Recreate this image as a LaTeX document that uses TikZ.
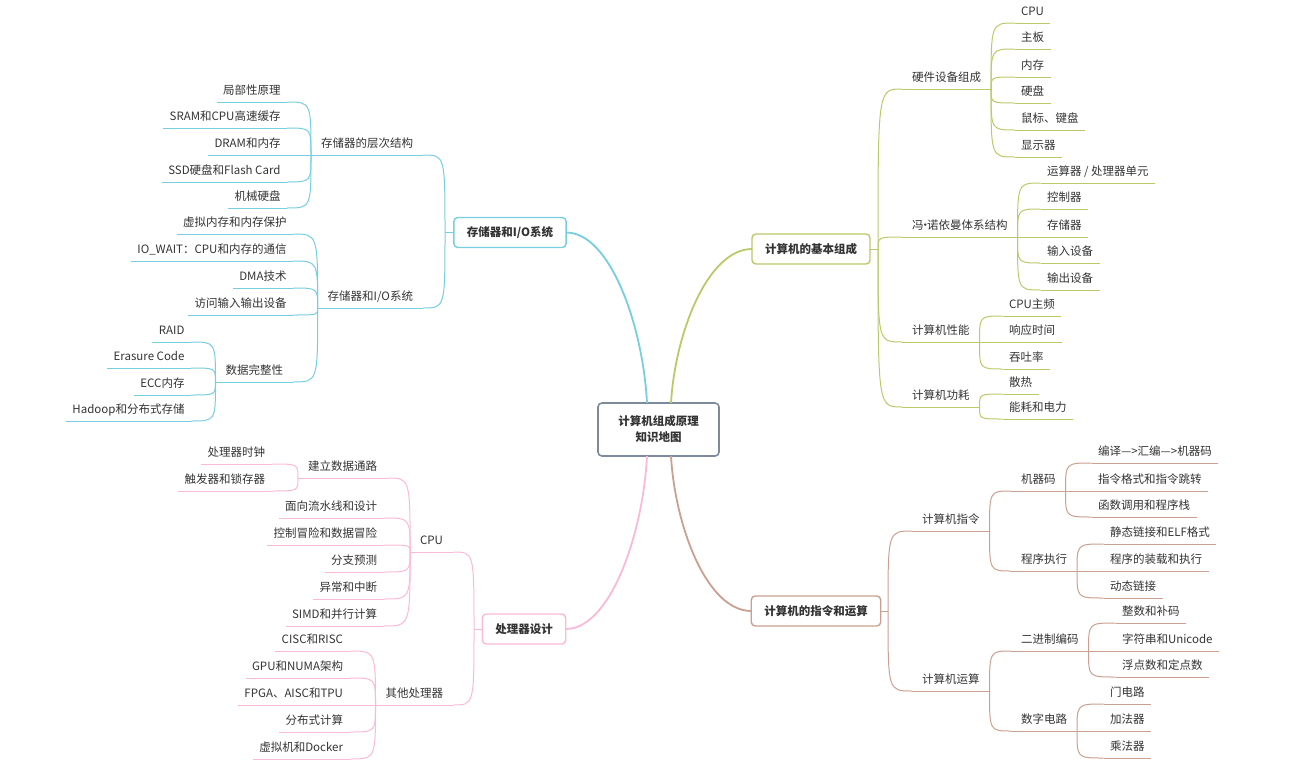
\documentclass[tikz,border=0pt]{standalone}
\usepackage{fontspec}
\setmainfont{Noto Sans CJK SC}
\definecolor{txt}{RGB}{51,51,51}
\definecolor{rootc}{RGB}{125,138,155}
\definecolor{bluec}{RGB}{118,206,224}
\definecolor{greenc}{RGB}{188,201,104}
\definecolor{pinkc}{RGB}{250,186,215}
\definecolor{brownc}{RGB}{201,160,145}
\tikzset{
  root/.style={draw=rootc, line width=1.6pt, rounded corners=4pt, fill=white, minimum width=121pt, minimum height=53pt, align=center, font=\fontsize{11.5}{16}\selectfont\bfseries},
  topic/.style={draw=#1, line width=1.4pt, rounded corners=4pt, fill=white, inner xsep=13pt, minimum height=30pt, font=\fontsize{11.5}{14}\selectfont\bfseries},
  leaf/.style={inner xsep=6.5pt, inner ysep=4.5pt, text height=9pt, text depth=2.6pt,
    append after command={(\tikzlastnode.south west) edge[draw=#1, line width=0.9pt] (\tikzlastnode.south east)}},
  sub/.style={leaf=#1, inner xsep=10pt},
  link/.style={draw=#1, line width=1pt},
  mainlink/.style={draw=#1, line width=1.8pt}
}
\begin{document}
\begin{tikzpicture}[x=1pt,y=-1pt,every node/.style={font=\fontsize{11.5}{16}\selectfont, text=txt, outer sep=0pt}]
\useasboundingbox (0,0) rectangle (1299,771);
\node[root] (root) at (658.5,429.5) {计算机组成原理\\知识地图};
% storage and I/O
\node[topic=bluec] (mem) at (510,232.5) {存储器和I/O系统};
\coordinate (jm) at (445,232.5);
\node[sub=bluec, anchor=south east] (hier) at (423,155) {存储器的层次结构};
\node[sub=bluec, anchor=south east] (memio) at (423,308) {存储器和I/O系统};
\node[leaf=bluec, anchor=south east] (h1) at (287,102) {局部性原理};
\node[leaf=bluec, anchor=south east] (h2) at (287,128) {SRAM和CPU高速缓存};
\node[leaf=bluec, anchor=south east] (h3) at (287,155) {DRAM和内存};
\node[leaf=bluec, anchor=south east] (h4) at (287,182) {SSD硬盘和Flash Card};
\node[leaf=bluec, anchor=south east] (h5) at (287,208) {机械硬盘};
\node[leaf=bluec, anchor=south east] (m1) at (293,234) {虚拟内存和内存保护};
\node[leaf=bluec, anchor=south east] (m2) at (293,261) {IO\_WAIT：CPU和内存的通信};
\node[leaf=bluec, anchor=south east] (m3) at (293,288) {DMA技术};
\node[leaf=bluec, anchor=south east] (m4) at (293,315) {访问输入输出设备};
\node[sub=bluec, anchor=south east] (integ) at (293,382) {数据完整性};
\node[leaf=bluec, anchor=south east] (d1) at (191,342) {RAID};
\node[leaf=bluec, anchor=south east] (d2) at (191,368) {Erasure Code};
\node[leaf=bluec, anchor=south east] (d3) at (191,395) {ECC内存};
\node[leaf=bluec, anchor=south east] (d4) at (191,421) {Hadoop和分布式存储};
% basic composition
\node[topic=greenc] (basic) at (811,249) {计算机的基本组成};
\coordinate (jb) at (878,249);
\node[sub=greenc, anchor=south west] (hw) at (902,89) {硬件设备组成};
\node[sub=greenc, anchor=south west] (vn) at (902,237) {冯\kern-4pt·\kern-4pt诺依曼体系结构};
\node[sub=greenc, anchor=south west] (perf) at (902,342) {计算机性能};
\node[sub=greenc, anchor=south west] (power) at (902,407) {计算机功耗};
\node[leaf=greenc, anchor=south west] (w1) at (1014.5,23) {CPU};
\node[leaf=greenc, anchor=south west] (w2) at (1014.5,49) {主板};
\node[leaf=greenc, anchor=south west] (w3) at (1014.5,77) {内存};
\node[leaf=greenc, anchor=south west] (w4) at (1014.5,103) {硬盘};
\node[leaf=greenc, anchor=south west] (w5) at (1014.5,130) {鼠标、键盘};
\node[leaf=greenc, anchor=south west] (w6) at (1014.5,157) {显示器};
\node[leaf=greenc, anchor=south west] (v1) at (1040.5,183) {运算器 / 处理器单元};
\node[leaf=greenc, anchor=south west] (v2) at (1040.5,209) {控制器};
\node[leaf=greenc, anchor=south west] (v3) at (1040.5,237) {存储器};
\node[leaf=greenc, anchor=south west] (v4) at (1040.5,263) {输入设备};
\node[leaf=greenc, anchor=south west] (v5) at (1040.5,290) {输出设备};
\node[leaf=greenc, anchor=south west] (p1) at (1002.5,316) {CPU主频};
\node[leaf=greenc, anchor=south west] (p2) at (1002.5,342) {响应时间};
\node[leaf=greenc, anchor=south west] (p3) at (1002.5,369) {吞吐率};
\node[leaf=greenc, anchor=south west] (e1) at (1002.5,394) {散热};
\node[leaf=greenc, anchor=south west] (e2) at (1002.5,419) {能耗和电力};
% instructions and arithmetic
\node[topic=brownc] (instr) at (816,611) {计算机的指令和运算};
\coordinate (ji) at (888,611);
\node[sub=brownc, anchor=south west] (ins) at (912,531) {计算机指令};
\node[sub=brownc, anchor=south west] (ari) at (912,691) {计算机运算};
\node[sub=brownc, anchor=south west] (mc) at (1011,491) {机器码};
\node[sub=brownc, anchor=south west] (pe) at (1011,571) {程序执行};
\node[sub=brownc, anchor=south west] (bin) at (1011,651) {二进制编码};
\node[sub=brownc, anchor=south west] (dc) at (1011,731) {数字电路};
\node[leaf=brownc, anchor=south west] (c1) at (1091.5,463) {编译—>汇编—>机器码};
\node[leaf=brownc, anchor=south west] (c2) at (1091.5,491) {指令格式和指令跳转};
\node[leaf=brownc, anchor=south west] (c3) at (1091.5,517) {函数调用和程序栈};
\node[leaf=brownc, anchor=south west] (x1) at (1103.5,544) {静态链接和ELF格式};
\node[leaf=brownc, anchor=south west] (x2) at (1103.5,571) {程序的装载和执行};
\node[leaf=brownc, anchor=south west] (x3) at (1103.5,598) {动态链接};
\node[leaf=brownc, anchor=south west] (b1) at (1115.5,623) {整数和补码};
\node[leaf=brownc, anchor=south west] (b2) at (1115.5,651) {字符串和Unicode};
\node[leaf=brownc, anchor=south west] (b3) at (1115.5,677) {浮点数和定点数};
\node[leaf=brownc, anchor=south west] (g1) at (1103.5,704) {门电路};
\node[leaf=brownc, anchor=south west] (g2) at (1103.5,731) {加法器};
\node[leaf=brownc, anchor=south west] (g3) at (1103.5,758) {乘法器};
% processor design
\node[topic=pinkc] (proc) at (524,629) {处理器设计};
\coordinate (jp) at (474,629);
\node[sub=pinkc, anchor=south east] (cpu) at (453,552) {CPU};
\node[sub=pinkc, anchor=south east] (other) at (453,705) {其他处理器};
\node[sub=pinkc, anchor=south east] (path) at (387,478) {建立数据通路};
\node[leaf=pinkc, anchor=south east] (u1) at (383.5,518) {面向流水线和设计};
\node[leaf=pinkc, anchor=south east] (u2) at (383.5,545) {控制冒险和数据冒险};
\node[leaf=pinkc, anchor=south east] (u3) at (383.5,572) {分支预测};
\node[leaf=pinkc, anchor=south east] (u4) at (383.5,599) {异常和中断};
\node[leaf=pinkc, anchor=south east] (u5) at (383.5,626) {SIMD和并行计算};
\node[leaf=pinkc, anchor=south east] (t1) at (271.5,464) {处理器时钟};
\node[leaf=pinkc, anchor=south east] (t2) at (271.5,491) {触发器和锁存器};
\node[leaf=pinkc, anchor=south east] (o1) at (349.5,651) {CISC和RISC};
\node[leaf=pinkc, anchor=south east] (o2) at (349.5,678) {GPU和NUMA架构};
\node[leaf=pinkc, anchor=south east] (o3) at (349.5,705) {FPGA、AISC和TPU};
\node[leaf=pinkc, anchor=south east] (o4) at (349.5,732) {分布式计算};
\node[leaf=pinkc, anchor=south east] (o5) at (349.5,759) {虚拟机和Docker};
% main branches
\draw[mainlink=bluec] ([xshift=-11.5pt]root.north) .. controls +(-4,-77) and +(44,0) .. (mem.east);
\draw[mainlink=greenc] ([xshift=12.5pt]root.north) .. controls +(4,-69) and +(-44.5,0) .. (basic.west);
\draw[mainlink=pinkc] ([xshift=-11.5pt]root.south) .. controls +(-4,78) and +(44.5,0) .. (proc.east);
\draw[mainlink=brownc] ([xshift=12.5pt]root.south) .. controls +(4,70) and +(-44.5,0) .. (instr.west);
\draw[link=bluec] (mem.west) -- (jm);
\draw[link=greenc] (basic.east) -- (jb);
\draw[link=brownc] (instr.east) -- (ji);
\draw[link=pinkc] (proc.west) -- (jp);
% storage branches
\draw[link=bluec] (jm) .. controls (jm |- hier.south east) .. (hier.south east);
\draw[link=bluec] (jm) .. controls (jm |- memio.south east) .. (memio.south east);
\draw[link=bluec] (hier.south west) .. controls (hier.south west |- h1.south east) .. (h1.south east);
\draw[link=bluec] (hier.south west) .. controls (hier.south west |- h2.south east) .. (h2.south east);
\draw[link=bluec] (hier.south west) -- (h3.south east);
\draw[link=bluec] (hier.south west) .. controls (hier.south west |- h4.south east) .. (h4.south east);
\draw[link=bluec] (hier.south west) .. controls (hier.south west |- h5.south east) .. (h5.south east);
\draw[link=bluec] (memio.south west) .. controls (memio.south west |- m1.south east) .. (m1.south east);
\draw[link=bluec] (memio.south west) .. controls (memio.south west |- m2.south east) .. (m2.south east);
\draw[link=bluec] (memio.south west) .. controls (memio.south west |- m3.south east) .. (m3.south east);
\draw[link=bluec] (memio.south west) .. controls (memio.south west |- m4.south east) .. (m4.south east);
\draw[link=bluec] (memio.south west) .. controls (memio.south west |- integ.south east) .. (integ.south east);
\draw[link=bluec] (integ.south west) .. controls (integ.south west |- d1.south east) .. (d1.south east);
\draw[link=bluec] (integ.south west) .. controls (integ.south west |- d2.south east) .. (d2.south east);
\draw[link=bluec] (integ.south west) .. controls (integ.south west |- d3.south east) .. (d3.south east);
\draw[link=bluec] (integ.south west) .. controls (integ.south west |- d4.south east) .. (d4.south east);
% basic composition branches
\draw[link=greenc] (jb) .. controls (jb |- hw.south west) .. (hw.south west);
\draw[link=greenc] (jb) .. controls (jb |- vn.south west) .. (vn.south west);
\draw[link=greenc] (jb) .. controls (jb |- perf.south west) .. (perf.south west);
\draw[link=greenc] (jb) .. controls (jb |- power.south west) .. (power.south west);
\draw[link=greenc] (hw.south east) .. controls (hw.south east |- w1.south west) .. (w1.south west);
\draw[link=greenc] (hw.south east) .. controls (hw.south east |- w2.south west) .. (w2.south west);
\draw[link=greenc] (hw.south east) .. controls (hw.south east |- w3.south west) .. (w3.south west);
\draw[link=greenc] (hw.south east) .. controls (hw.south east |- w4.south west) .. (w4.south west);
\draw[link=greenc] (hw.south east) .. controls (hw.south east |- w5.south west) .. (w5.south west);
\draw[link=greenc] (hw.south east) .. controls (hw.south east |- w6.south west) .. (w6.south west);
\draw[link=greenc] (vn.south east) .. controls (vn.south east |- v1.south west) .. (v1.south west);
\draw[link=greenc] (vn.south east) .. controls (vn.south east |- v2.south west) .. (v2.south west);
\draw[link=greenc] (vn.south east) -- (v3.south west);
\draw[link=greenc] (vn.south east) .. controls (vn.south east |- v4.south west) .. (v4.south west);
\draw[link=greenc] (vn.south east) .. controls (vn.south east |- v5.south west) .. (v5.south west);
\draw[link=greenc] (perf.south east) .. controls (perf.south east |- p1.south west) .. (p1.south west);
\draw[link=greenc] (perf.south east) -- (p2.south west);
\draw[link=greenc] (perf.south east) .. controls (perf.south east |- p3.south west) .. (p3.south west);
\draw[link=greenc] (power.south east) .. controls (power.south east |- e1.south west) .. (e1.south west);
\draw[link=greenc] (power.south east) .. controls (power.south east |- e2.south west) .. (e2.south west);
% instruction branches
\draw[link=brownc] (ji) .. controls (ji |- ins.south west) .. (ins.south west);
\draw[link=brownc] (ji) .. controls (ji |- ari.south west) .. (ari.south west);
\draw[link=brownc] (ins.south east) .. controls (ins.south east |- mc.south west) .. (mc.south west);
\draw[link=brownc] (ins.south east) .. controls (ins.south east |- pe.south west) .. (pe.south west);
\draw[link=brownc] (ari.south east) .. controls (ari.south east |- bin.south west) .. (bin.south west);
\draw[link=brownc] (ari.south east) .. controls (ari.south east |- dc.south west) .. (dc.south west);
\draw[link=brownc] (mc.south east) .. controls (mc.south east |- c1.south west) .. (c1.south west);
\draw[link=brownc] (mc.south east) -- (c2.south west);
\draw[link=brownc] (mc.south east) .. controls (mc.south east |- c3.south west) .. (c3.south west);
\draw[link=brownc] (pe.south east) .. controls (pe.south east |- x1.south west) .. (x1.south west);
\draw[link=brownc] (pe.south east) -- (x2.south west);
\draw[link=brownc] (pe.south east) .. controls (pe.south east |- x3.south west) .. (x3.south west);
\draw[link=brownc] (bin.south east) .. controls (bin.south east |- b1.south west) .. (b1.south west);
\draw[link=brownc] (bin.south east) -- (b2.south west);
\draw[link=brownc] (bin.south east) .. controls (bin.south east |- b3.south west) .. (b3.south west);
\draw[link=brownc] (dc.south east) .. controls (dc.south east |- g1.south west) .. (g1.south west);
\draw[link=brownc] (dc.south east) -- (g2.south west);
\draw[link=brownc] (dc.south east) .. controls (dc.south east |- g3.south west) .. (g3.south west);
% processor branches
\draw[link=pinkc] (jp) .. controls (jp |- cpu.south east) .. (cpu.south east);
\draw[link=pinkc] (jp) .. controls (jp |- other.south east) .. (other.south east);
\draw[link=pinkc] (cpu.south west) .. controls (cpu.south west |- path.south east) .. (path.south east);
\draw[link=pinkc] (cpu.south west) .. controls (cpu.south west |- u1.south east) .. (u1.south east);
\draw[link=pinkc] (cpu.south west) .. controls (cpu.south west |- u2.south east) .. (u2.south east);
\draw[link=pinkc] (cpu.south west) .. controls (cpu.south west |- u3.south east) .. (u3.south east);
\draw[link=pinkc] (cpu.south west) .. controls (cpu.south west |- u4.south east) .. (u4.south east);
\draw[link=pinkc] (cpu.south west) .. controls (cpu.south west |- u5.south east) .. (u5.south east);
\draw[link=pinkc] (path.south west) .. controls (path.south west |- t1.south east) .. (t1.south east);
\draw[link=pinkc] (path.south west) .. controls (path.south west |- t2.south east) .. (t2.south east);
\draw[link=pinkc] (other.south west) .. controls (other.south west |- o1.south east) .. (o1.south east);
\draw[link=pinkc] (other.south west) .. controls (other.south west |- o2.south east) .. (o2.south east);
\draw[link=pinkc] (other.south west) -- (o3.south east);
\draw[link=pinkc] (other.south west) .. controls (other.south west |- o4.south east) .. (o4.south east);
\draw[link=pinkc] (other.south west) .. controls (other.south west |- o5.south east) .. (o5.south east);
\end{tikzpicture}
\end{document}
